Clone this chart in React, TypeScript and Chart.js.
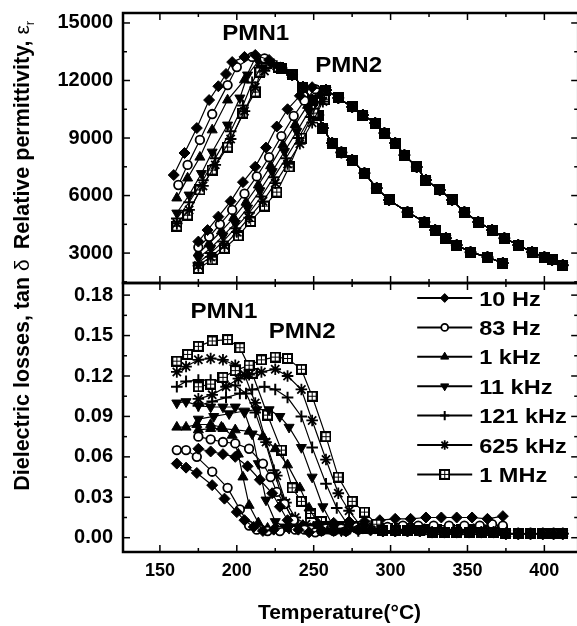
import React, { useEffect, useRef } from 'react';
import { Chart, registerables } from 'chart.js';
import { drawPoint } from 'chart.js/helpers';

Chart.register(...registerables);

const FONT = "'Liberation Sans', Arial, sans-serif";

// ---------- categories / ticks ----------
const FREQUENCIES = ['10 Hz', '83 Hz', '1 kHz', '11 kHz', '121 kHz', '625 kHz', '1 MHz'];
const X_TICKS = [150, 200, 250, 300, 350, 400];
const X_MINOR = [125, 175, 225, 275, 325, 375];
const EPS_TICKS = [3000, 6000, 9000, 12000, 15000];
const EPS_MINOR = [1500, 4500, 7500, 10500, 13500];
const TAN_TICKS = [0, 0.03, 0.06, 0.09, 0.12, 0.15, 0.18];
const TAN_MINOR = [0.015, 0.045, 0.075, 0.105, 0.135, 0.165];
const X_MIN = 126, X_MAX = 422;
const EPS_MIN = 1440, EPS_MAX = 15520;
const TAN_MIN = -0.0106, TAN_MAX = 0.189;

// ---------- relative permittivity, PMN1 (rising part per frequency) ----------
const E1_10HZ = [[159, 7070], [166, 8220], [174, 9520], [182, 10980], [188, 11700], [193, 12340], [197, 12960], [205, 13230], [212, 13330], [221, 13070]];
const E1_83HZ = [[162, 6550], [168, 7600], [176, 8900], [184, 10250], [194, 11760], [200, 12700], [210, 13230], [218, 13150]];
const E1_1KHZ = [[161, 5870], [168, 6910], [176, 8000], [184, 9420], [194, 10980], [205, 12030], [212, 13170], [220, 13000]];
const E1_11KHZ = [[161, 5090], [169, 6030], [177, 7150], [184, 8270], [194, 9680], [202, 11090], [207, 12290], [214, 13000], [222, 12900]];
const E1_121KHZ = [[161, 4800], [169, 5650], [178, 6800], [186, 7950], [196, 9350], [204, 10700], [210, 11900], [216, 12750], [224, 12850]];
const E1_625KHZ = [[161, 4550], [169, 5250], [178, 6500], [186, 7600], [196, 8950], [205, 10400], [212, 11650], [218, 12500], [226, 12750]];
const E1_1MHZ = [[161, 4400], [168, 4980], [176, 6290], [184, 7330], [194, 8530], [204, 10300], [212, 11400], [215, 12440], [219, 12900], [227, 12700]];
// common falling branch of PMN1
const E1_FALL = [[229, 12650], [236, 12290], [243, 11660], [249, 10980], [253, 10200], [256, 9520], [262, 8740], [268, 8250], [275, 7850], [283, 7170], [291, 6390], [299, 5770], [311, 5140], [322, 4620], [329, 4200], [336, 3780], [343, 3420], [352, 3050], [363, 2790], [373, 2480]];

// ---------- relative permittivity, PMN2 ----------
const E2_10HZ = [[175, 3600], [181, 4200], [188, 4900], [196, 5700], [204, 6700], [212, 7500], [219, 8500], [226, 9600], [233, 10500], [241, 11200], [249, 11650]];
const E2_83HZ = [[175, 3300], [182, 3850], [189, 4500], [197, 5250], [205, 6100], [213, 7000], [221, 8000], [229, 9100], [237, 10150], [244, 10950], [251, 11550]];
const E2_1KHZ = [[175, 3000], [182, 3500], [190, 4150], [198, 4850], [206, 5650], [214, 6550], [222, 7550], [230, 8650], [238, 9700], [246, 10700], [253, 11450]];
const E2_11KHZ = [[175, 2750], [183, 3250], [191, 3900], [199, 4550], [207, 5350], [215, 6250], [223, 7250], [231, 8300], [239, 9350], [247, 10400], [254, 11300]];
const E2_121KHZ = [[175, 2500], [183, 3000], [191, 3600], [199, 4300], [208, 5100], [216, 5950], [224, 6950], [232, 7950], [240, 9000], [248, 10100], [255, 11100]];
const E2_625KHZ = [[175, 2350], [183, 2800], [192, 3400], [200, 4100], [208, 4850], [217, 5700], [225, 6650], [233, 7650], [241, 8700], [249, 9800], [256, 10900]];
const E2_1MHZ = [[175, 2200], [184, 2650], [192, 3250], [201, 3900], [209, 4650], [218, 5450], [226, 6180], [234, 7490], [242, 9000], [250, 10300], [257, 11000]];
const E2_FALL = [[258, 11500], [266, 11090], [275, 10620], [282, 10200], [290, 9780], [296, 9260], [303, 8740], [309, 8110], [317, 7490], [323, 6810], [332, 6290], [340, 5770], [348, 5140], [357, 4620], [366, 4200], [374, 3780], [383, 3420], [392, 3050], [400, 2790], [405, 2640], [412, 2370]];

// ---------- dielectric losses, PMN1 ----------
const T1_10HZ = [[161, 0.055], [167, 0.052], [174, 0.048], [184, 0.039], [192, 0.029], [200, 0.019], [205, 0.013], [211, 0.008], [217, 0.005], [224, 0.006]];
const T1_83HZ = [[161, 0.065], [167, 0.065], [174, 0.060], [184, 0.049], [194, 0.037], [202, 0.021], [208, 0.009], [213, 0.006], [220, 0.005], [228, 0.005]];
const T1_1KHZ = [[161, 0.082], [167, 0.082], [174, 0.084], [183, 0.084], [190, 0.082], [197, 0.076], [201, 0.062], [204, 0.045], [208, 0.024], [214, 0.011], [220, 0.007]];
const T1_11KHZ = [[161, 0.100], [167, 0.101], [175, 0.098], [183, 0.097], [191, 0.097], [199, 0.097], [205, 0.093], [210, 0.077], [214, 0.055], [219, 0.028], [225, 0.012], [231, 0.008]];
const T1_121KHZ = [[161, 0.112], [167, 0.116], [175, 0.117], [183, 0.117], [191, 0.116], [199, 0.113], [206, 0.107], [212, 0.093], [218, 0.073], [224, 0.050], [230, 0.028], [236, 0.014], [243, 0.009]];
const T1_625KHZ = [[161, 0.123], [167, 0.127], [175, 0.132], [183, 0.133], [191, 0.132], [199, 0.128], [205, 0.121], [212, 0.100], [219, 0.071], [226, 0.046], [232, 0.026], [238, 0.015], [245, 0.010]];
const T1_1MHZ = [[161, 0.131], [168, 0.136], [175, 0.142], [184, 0.146], [194, 0.147], [202, 0.141], [210, 0.122], [220, 0.091], [229, 0.065], [236, 0.037], [242, 0.027], [248, 0.018], [255, 0.012]];
const T1_TAIL_10HZ = [[233, 0.008], [243, 0.009], [253, 0.010], [263, 0.011], [273, 0.012], [283, 0.012], [293, 0.013], [303, 0.014], [313, 0.014], [323, 0.015], [333, 0.015], [343, 0.015], [353, 0.015], [363, 0.014], [373, 0.016]];
const T1_TAIL_83HZ = [[238, 0.006], [248, 0.006], [258, 0.007], [268, 0.007], [278, 0.008], [288, 0.008], [298, 0.008], [308, 0.009], [318, 0.009], [328, 0.009], [338, 0.009], [348, 0.009], [358, 0.009], [366, 0.010], [373, 0.009]];
const T1_TAIL = [[226, 0.007], [234, 0.007], [242, 0.008], [250, 0.008], [258, 0.008], [266, 0.008], [274, 0.008], [282, 0.007], [290, 0.007], [298, 0.007], [306, 0.007], [314, 0.007], [322, 0.006], [330, 0.006], [338, 0.006], [346, 0.006], [354, 0.006], [362, 0.005], [373, 0.005]];

// ---------- dielectric losses, PMN2 ----------
const T2_10HZ = [[175, 0.066], [183, 0.064], [191, 0.062], [199, 0.060], [207, 0.053], [215, 0.043], [223, 0.033], [228, 0.023], [233, 0.013], [240, 0.006], [247, 0.004]];
const T2_83HZ = [[175, 0.075], [183, 0.073], [191, 0.071], [199, 0.070], [208, 0.066], [217, 0.055], [222, 0.045], [226, 0.034], [231, 0.025], [237, 0.013], [244, 0.006], [251, 0.004]];
const T2_1KHZ = [[175, 0.080], [183, 0.081], [191, 0.081], [199, 0.080], [208, 0.079], [217, 0.075], [225, 0.066], [233, 0.054], [241, 0.037], [247, 0.022], [253, 0.010], [259, 0.005]];
const T2_11KHZ = [[175, 0.088], [185, 0.090], [195, 0.092], [205, 0.094], [213, 0.095], [221, 0.095], [228, 0.090], [234, 0.082], [242, 0.067], [249, 0.045], [256, 0.023], [262, 0.010], [268, 0.005]];
const T2_121KHZ = [[175, 0.098], [184, 0.101], [193, 0.104], [202, 0.107], [210, 0.110], [218, 0.112], [225, 0.110], [233, 0.104], [242, 0.090], [249, 0.067], [258, 0.040], [265, 0.022], [272, 0.010], [279, 0.005]];
const T2_625KHZ = [[175, 0.103], [184, 0.106], [193, 0.112], [201, 0.118], [208, 0.121], [216, 0.123], [225, 0.125], [233, 0.120], [242, 0.110], [249, 0.087], [258, 0.058], [266, 0.033], [273, 0.020], [281, 0.008]];
const T2_1MHZ = [[175, 0.112], [183, 0.114], [191, 0.119], [199, 0.124], [208, 0.128], [216, 0.132], [225, 0.134], [233, 0.133], [242, 0.125], [249, 0.105], [258, 0.075], [266, 0.045], [275, 0.027], [283, 0.019], [291, 0.010]];
const T2_TAIL = [[255, 0.005], [263, 0.005], [271, 0.005], [279, 0.006], [287, 0.006], [295, 0.005], [303, 0.005], [311, 0.005], [319, 0.005], [327, 0.004], [335, 0.004], [343, 0.004], [351, 0.004], [359, 0.004], [367, 0.004], [375, 0.003], [383, 0.003], [391, 0.003], [399, 0.003], [406, 0.003], [412, 0.003]];

const E1_SERIES = [E1_10HZ, E1_83HZ, E1_1KHZ, E1_11KHZ, E1_121KHZ, E1_625KHZ, E1_1MHZ];
const E2_SERIES = [E2_10HZ, E2_83HZ, E2_1KHZ, E2_11KHZ, E2_121KHZ, E2_625KHZ, E2_1MHZ];
const T1_SERIES = [T1_10HZ, T1_83HZ, T1_1KHZ, T1_11KHZ, T1_121KHZ, T1_625KHZ, T1_1MHZ];
const T1_TAILS = [T1_TAIL_10HZ, T1_TAIL_83HZ, T1_TAIL, T1_TAIL, T1_TAIL, T1_TAIL, T1_TAIL];
const T2_SERIES = [T2_10HZ, T2_83HZ, T2_1KHZ, T2_11KHZ, T2_121KHZ, T2_625KHZ, T2_1MHZ];

function join(rise: number[][], rest: number[][]) {
  const last = rise[rise.length - 1][0];
  return rise.concat(rest.filter((p) => p[0] > last)).map(([x, y]) => ({ x, y }));
}

function makeBoxPlus(): HTMLCanvasElement {
  const s = 11;
  const c = document.createElement('canvas');
  c.width = s; c.height = s;
  const g = c.getContext('2d')!;
  g.fillStyle = '#000';
  g.fillRect(0, 0, s, s);
  g.fillStyle = '#fff';
  g.fillRect(2, 2, 3, 3); g.fillRect(6, 2, 3, 3); g.fillRect(2, 6, 3, 3); g.fillRect(6, 6, 3, 3);
  return c;
}

function markers(box: HTMLCanvasElement) {
  return [
    { style: 'rectRot', radius: 5.5, fill: '#000', bw: 1, rot: 0 },
    { style: 'circle', radius: 4.3, fill: '#fff', bw: 1.8, rot: 0 },
    { style: 'triangle', radius: 5.8, fill: '#000', bw: 1, rot: 0 },
    { style: 'triangle', radius: 5.8, fill: '#000', bw: 1, rot: 180 },
    { style: 'cross', radius: 5.8, fill: '#000', bw: 2, rot: 0 },
    { style: 'star', radius: 5.8, fill: '#000', bw: 1.8, rot: 0 },
    { style: box as any, radius: 5.5, fill: '#000', bw: 1, rot: 0 },
  ];
}

function dataset(pts: any[], m: any) {
  return {
    data: pts,
    showLine: true,
    borderColor: '#000',
    borderWidth: 1.2,
    tension: 0,
    pointStyle: m.style,
    pointRadius: m.radius,
    pointHoverRadius: m.radius,
    pointBackgroundColor: m.fill,
    pointBorderColor: '#000',
    pointBorderWidth: m.bw,
    pointRotation: m.rot,
  };
}

function txt(ctx: CanvasRenderingContext2D, s: string, x: number, y: number, size: number, opts: any = {}) {
  const { align = 'center', weight = 'bold', sx = 1, family = FONT } = opts;
  ctx.save();
  ctx.translate(x, y);
  ctx.scale(sx, 1);
  ctx.font = `${weight} ${size}px ${family}`;
  ctx.textAlign = align;
  ctx.textBaseline = 'alphabetic';
  ctx.fillStyle = '#000';
  ctx.fillText(s, 0, 0);
  ctx.restore();
}

function rotatedTitle(ctx: CanvasRenderingContext2D, parts: any[], bx: number, cy: number) {
  ctx.save();
  ctx.translate(bx, cy);
  ctx.rotate(-Math.PI / 2);
  ctx.fillStyle = '#000';
  ctx.textBaseline = 'alphabetic';
  ctx.textAlign = 'left';
  let total = 0;
  for (const p of parts) { ctx.font = p.font; total += ctx.measureText(p.text).width; }
  let x = -total / 2;
  for (const p of parts) {
    ctx.font = p.font;
    ctx.fillText(p.text, x, p.dy || 0);
    x += ctx.measureText(p.text).width;
  }
  ctx.restore();
}

function drawFrame(chart: any, yMajor: number[], yMinor: number[]) {
  const { ctx, chartArea, scales } = chart;
  const { left, right, top, bottom } = chartArea;
  const x = scales.x, y = scales.y;
  ctx.save();
  ctx.strokeStyle = '#000';
  ctx.lineWidth = 1.5;
  const seg = (x0: number, y0: number, x1: number, y1: number) => {
    ctx.beginPath(); ctx.moveTo(x0, y0); ctx.lineTo(x1, y1); ctx.stroke();
  };
  X_TICKS.forEach((v) => { const p = x.getPixelForValue(v); seg(p, top, p, top + 7); seg(p, bottom, p, bottom - 7); });
  X_MINOR.filter((v) => v > X_MIN && v < X_MAX).forEach((v) => { const p = x.getPixelForValue(v); seg(p, top, p, top + 4); seg(p, bottom, p, bottom - 4); });
  yMajor.forEach((v) => { const p = y.getPixelForValue(v); seg(left, p, left + 7, p); seg(right, p, right - 7, p); });
  yMinor.forEach((v) => { const p = y.getPixelForValue(v); seg(left, p, left + 4, p); seg(right, p, right - 4, p); });
  ctx.lineWidth = 2.5;
  ctx.strokeRect(left, top, right - left, bottom - top);
  ctx.restore();
}

function xScale(display: boolean) {
  return {
    type: 'linear',
    min: X_MIN,
    max: X_MAX,
    display,
    grid: { display: false, drawTicks: false },
    border: { display: false },
    ticks: { font: { family: FONT, size: 18, weight: 'bold' }, color: '#000', padding: 8, maxRotation: 0, autoSkip: false },
    afterBuildTicks: (ax: any) => { ax.ticks = X_TICKS.map((v) => ({ value: v })); },
    afterFit: (ax: any) => {
      ax.height = display ? 74 : 0;
      ax.paddingLeft = 0; ax.paddingRight = 0;
    },
  };
}

function yScale(min: number, max: number, ticks: number[], fmt: (v: number) => string) {
  return {
    type: 'linear',
    position: 'left',
    min,
    max,
    grid: { display: false, drawTicks: false },
    border: { display: false },
    ticks: { font: { family: FONT, size: 20, weight: 'bold' }, color: '#000', padding: 10, autoSkip: false, callback: (v: any) => fmt(Number(v)) },
    afterBuildTicks: (ax: any) => { ax.ticks = ticks.map((v) => ({ value: v })); },
    afterFit: (ax: any) => { ax.width = 123; ax.paddingTop = 0; ax.paddingBottom = 0; },
  };
}

export default function App() {
  const topRef = useRef<HTMLCanvasElement>(null);
  const botRef = useRef<HTMLCanvasElement>(null);

  useEffect(() => {
    const box = makeBoxPlus();
    const M = markers(box);

    const topData: any[] = [];
    E2_SERIES.forEach((s, i) => topData.push(dataset(join(s, E2_FALL), M[i])));
    E1_SERIES.forEach((s, i) => topData.push(dataset(join(s, E1_FALL), M[i])));

    const botData: any[] = [];
    T2_SERIES.forEach((s, i) => botData.push(dataset(join(s, T2_TAIL), M[i])));
    T1_SERIES.forEach((s, i) => botData.push(dataset(join(s, T1_TAILS[i]), M[i])));

    const topChart = new Chart(topRef.current!, {
      type: 'scatter',
      data: { datasets: topData },
      options: {
        responsive: false,
        animation: false,
        devicePixelRatio: 1,
        events: [],
        layout: { padding: { top: 13, bottom: 343, left: 0, right: 7 } },
        plugins: { legend: { display: false }, tooltip: { enabled: false } },
        scales: {
          x: xScale(false) as any,
          y: yScale(EPS_MIN, EPS_MAX, EPS_TICKS, (v) => String(Math.round(v))) as any,
        },
      },
      plugins: [{
        id: 'topDecor',
        afterDraw(chart: any) {
          const { ctx, scales } = chart;
          drawFrame(chart, EPS_TICKS, EPS_MINOR);
          const x = scales.x, y = scales.y;
          txt(ctx, 'PMN1', x.getPixelForValue(212.3), y.getPixelForValue(14530) + 7.7, 21.5, { sx: 1.12 });
          txt(ctx, 'PMN2', x.getPixelForValue(272.7), y.getPixelForValue(12860) + 7.7, 21.5, { sx: 1.12 });
          rotatedTitle(ctx, [
            { text: 'Relative permittivity, ', font: `bold 21.5px ${FONT}` },
            { text: 'ε', font: `normal 21px ${FONT}` },
            { text: 'r', font: `normal 13px ${FONT}`, dy: 5 },
          ], 29, 135);
          rotatedTitle(ctx, [
            { text: 'Dielectric losses, tan ', font: `bold 21.5px ${FONT}` },
            { text: 'δ', font: `normal 21px ${FONT}` },
          ], 29, 375);
        },
      }],
    } as any);

    const botChart = new Chart(botRef.current!, {
      type: 'scatter',
      data: { datasets: botData },
      options: {
        responsive: false,
        animation: false,
        devicePixelRatio: 1,
        events: [],
        layout: { padding: { top: 283, bottom: 0, left: 0, right: 7 } },
        plugins: { legend: { display: false }, tooltip: { enabled: false } },
        scales: {
          x: xScale(true) as any,
          y: yScale(TAN_MIN, TAN_MAX, TAN_TICKS, (v) => v.toFixed(2)) as any,
        },
      },
      plugins: [{
        id: 'botDecor',
        afterDraw(chart: any) {
          const { ctx, scales, chartArea } = chart;
          drawFrame(chart, TAN_TICKS, TAN_MINOR);
          const x = scales.x, y = scales.y;
          txt(ctx, 'PMN1', x.getPixelForValue(191.6), y.getPixelForValue(0.1685) + 7.7, 21.5, { sx: 1.12 });
          txt(ctx, 'PMN2', x.getPixelForValue(242.5), y.getPixelForValue(0.1536) + 7.7, 21.5, { sx: 1.12 });
          // legend
          const lx0 = chartArea.right - 161;
          const lx1 = chartArea.right - 106;
          FREQUENCIES.forEach((lab, i) => {
            const cy = chartArea.top + 15 + i * 29.4;
            ctx.save();
            ctx.strokeStyle = '#000';
            ctx.lineWidth = 2;
            ctx.beginPath(); ctx.moveTo(lx0, cy); ctx.lineTo(lx1, cy); ctx.stroke();
            const m = M[i];
            ctx.fillStyle = m.fill;
            ctx.strokeStyle = '#000';
            ctx.lineWidth = m.bw;
            drawPoint(ctx, { pointStyle: m.style, rotation: m.rot, radius: m.radius * 0.8, borderWidth: m.bw } as any, (lx0 + lx1) / 2, cy);
            ctx.restore();
            txt(ctx, lab, chartArea.right - 99, cy + 7.5, 21, { align: 'left', sx: 1.12 });
          });
          txt(ctx, 'Temperature(°C)', chartArea.left + 216.5, chart.height - 7, 20, { sx: 1.05 });
        },
      }],
    } as any);

    return () => { topChart.destroy(); botChart.destroy(); };
  }, []);

  return (
    <div style={{ position: 'absolute', left: 0, top: 0, width: 577, height: 626, overflow: 'hidden', background: '#fff' }}>
      <canvas ref={botRef} width={586} height={626} style={{ position: 'absolute', left: 0, top: 0 }} />
      <canvas ref={topRef} width={586} height={626} style={{ position: 'absolute', left: 0, top: 0 }} />
    </div>
  );
}
